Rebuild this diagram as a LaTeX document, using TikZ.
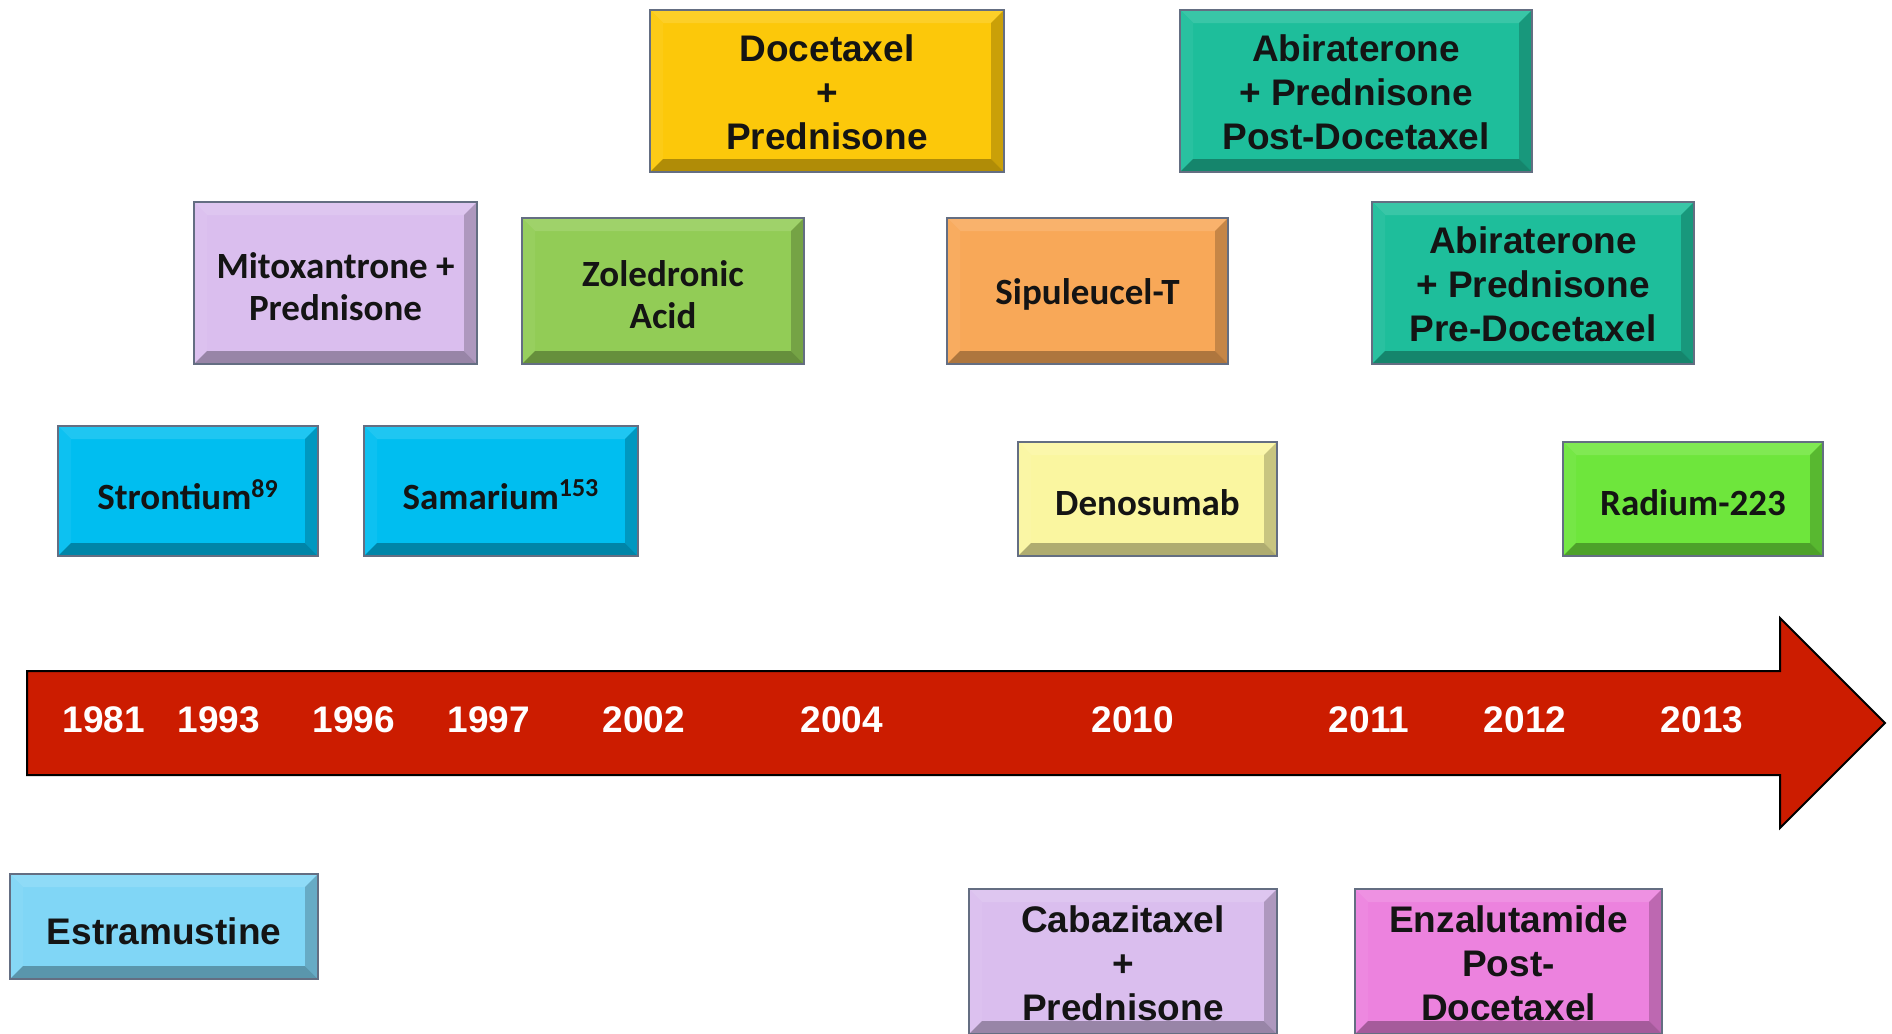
\documentclass[tikz,border=0pt]{standalone}
\usepackage{fontspec}
\setmainfont{Liberation Sans}
\newfontfamily\calib{Carlito}
\usetikzlibrary{calc}
\definecolor{yellowbox}{RGB}{252,200,10}
\definecolor{tealbox}{RGB}{30,190,155}
\definecolor{lavbox}{RGB}{218,190,238}
\definecolor{zolbox}{RGB}{146,204,86}
\definecolor{orangebox}{RGB}{248,168,88}
\definecolor{cyanbox}{RGB}{0,190,240}
\definecolor{denobox}{RGB}{250,246,160}
\definecolor{radbox}{RGB}{110,230,60}
\definecolor{estrabox}{RGB}{128,214,246}
\definecolor{pinkbox}{RGB}{236,130,222}
\definecolor{arrowred}{RGB}{204,28,0}
\definecolor{edgegray}{RGB}{100,110,130}
\tikzset{
  boxshape/.style={rectangle, inner sep=0pt, outer sep=0pt},
  boxline/.style={draw=edgegray, line width=0.7pt},
  arialtext/.style={font=\fontsize{18.5}{22}\selectfont\bfseries, align=center, text=black!92, inner sep=0pt, yshift=-0.7pt},
  calibtext/.style={font=\calib\fontsize{18.5}{21}\selectfont\bfseries, align=center, text=black!92, inner sep=0pt, yshift=-1.8pt},
  yeartext/.style={font=\fontsize{18.5}{22}\selectfont\bfseries, text=white, inner sep=0pt},
  arrowbody/.style={fill=arrowred, draw=black, line width=1pt, line join=miter},
}
% name, cx, cy, w, h, colour, text style, text
\newcommand\bevbox[8]{%
  \node[boxshape, fill=#6, minimum width=#4*0.5pt, minimum height=#5*0.5pt] (#1) at (#2,#3) {};
  \fill[#6!88!white] (#1.north west) -- (#1.north east) -- ([shift={(-6.5pt,-6.5pt)}]#1.north east) -- ([shift={(6.5pt,-6.5pt)}]#1.north west) -- cycle;
  \fill[#6!95!white] (#1.north west) -- ([shift={(6.5pt,-6.5pt)}]#1.north west) -- ([shift={(6.5pt,6.5pt)}]#1.south west) -- (#1.south west) -- cycle;
  \fill[#6!80!black] (#1.north east) -- ([shift={(-6.5pt,-6.5pt)}]#1.north east) -- ([shift={(-6.5pt,6.5pt)}]#1.south east) -- (#1.south east) -- cycle;
  \fill[#6!70!black] (#1.south west) -- ([shift={(6.5pt,6.5pt)}]#1.south west) -- ([shift={(-6.5pt,6.5pt)}]#1.south east) -- (#1.south east) -- cycle;
  \draw[boxline] (#1.north west) rectangle (#1.south east);
  \node[#7] (#1t) at (#1.center) {#8};
}
\begin{document}
\begin{tikzpicture}[x=0.5pt,y=-0.5pt]
\useasboundingbox (0,0) rectangle (1892,1034);
\fill[white] (0,0) rectangle (1892,1034);

% timeline arrow
\draw[arrowbody] (27,671) -- (1780,671) -- (1780,618) -- (1885,723) -- (1780,828) -- (1780,775) -- (27,775) -- cycle;
\node[yeartext] (y1981) at (104,720) {1981};
\node[yeartext] (y1993) at (219,720) {1993};
\node[yeartext] (y1996) at (354,720) {1996};
\node[yeartext] (y1997) at (489,720) {1997};
\node[yeartext] (y2002) at (644,720) {2002};
\node[yeartext] (y2004) at (842,720) {2004};
\node[yeartext] (y2010) at (1133,720) {2010};
\node[yeartext] (y2011) at (1369,720) {2011};
\node[yeartext] (y2012) at (1525,720) {2012};
\node[yeartext] (y2013) at (1702,720) {2013};

% boxes
\bevbox{doc}{827}{91}{354}{162}{yellowbox}{arialtext}{Docetaxel\\+\\Prednisone}
\bevbox{abipost}{1356}{91}{352}{162}{tealbox}{arialtext}{Abiraterone\\+ Prednisone\\Post-Docetaxel}
\bevbox{mito}{335.5}{283}{283}{162}{lavbox}{calibtext}{Mitoxantrone +\\Prednisone}
\bevbox{zol}{663}{291}{282}{146}{zolbox}{calibtext}{Zoledronic\\Acid}
\bevbox{sipu}{1087.5}{291}{281}{146}{orangebox}{calibtext}{Sipuleucel-T}
\bevbox{abipre}{1533}{283}{322}{162}{tealbox}{arialtext}{Abiraterone\\+ Prednisone\\Pre-Docetaxel}
\bevbox{stron}{188}{491}{260}{130}{cyanbox}{calibtext}{Strontium\textsuperscript{89}}
\bevbox{sama}{501}{491}{274}{130}{cyanbox}{calibtext}{Samarium\textsuperscript{153}}
\bevbox{deno}{1147.5}{499}{259}{114}{denobox}{calibtext}{Denosumab}
\bevbox{radium}{1693}{499}{260}{114}{radbox}{calibtext}{Radium-223}
\bevbox{estra}{164}{926.5}{308}{105}{estrabox}{arialtext,yshift=-1.8pt}{Estramustine}
\bevbox{caba}{1123}{961.5}{308}{145}{lavbox}{arialtext}{Cabazitaxel\\+\\Prednisone}
\bevbox{enza}{1508.5}{961.5}{307}{145}{pinkbox}{arialtext}{Enzalutamide\\Post-\\Docetaxel}
\end{tikzpicture}
\end{document}
